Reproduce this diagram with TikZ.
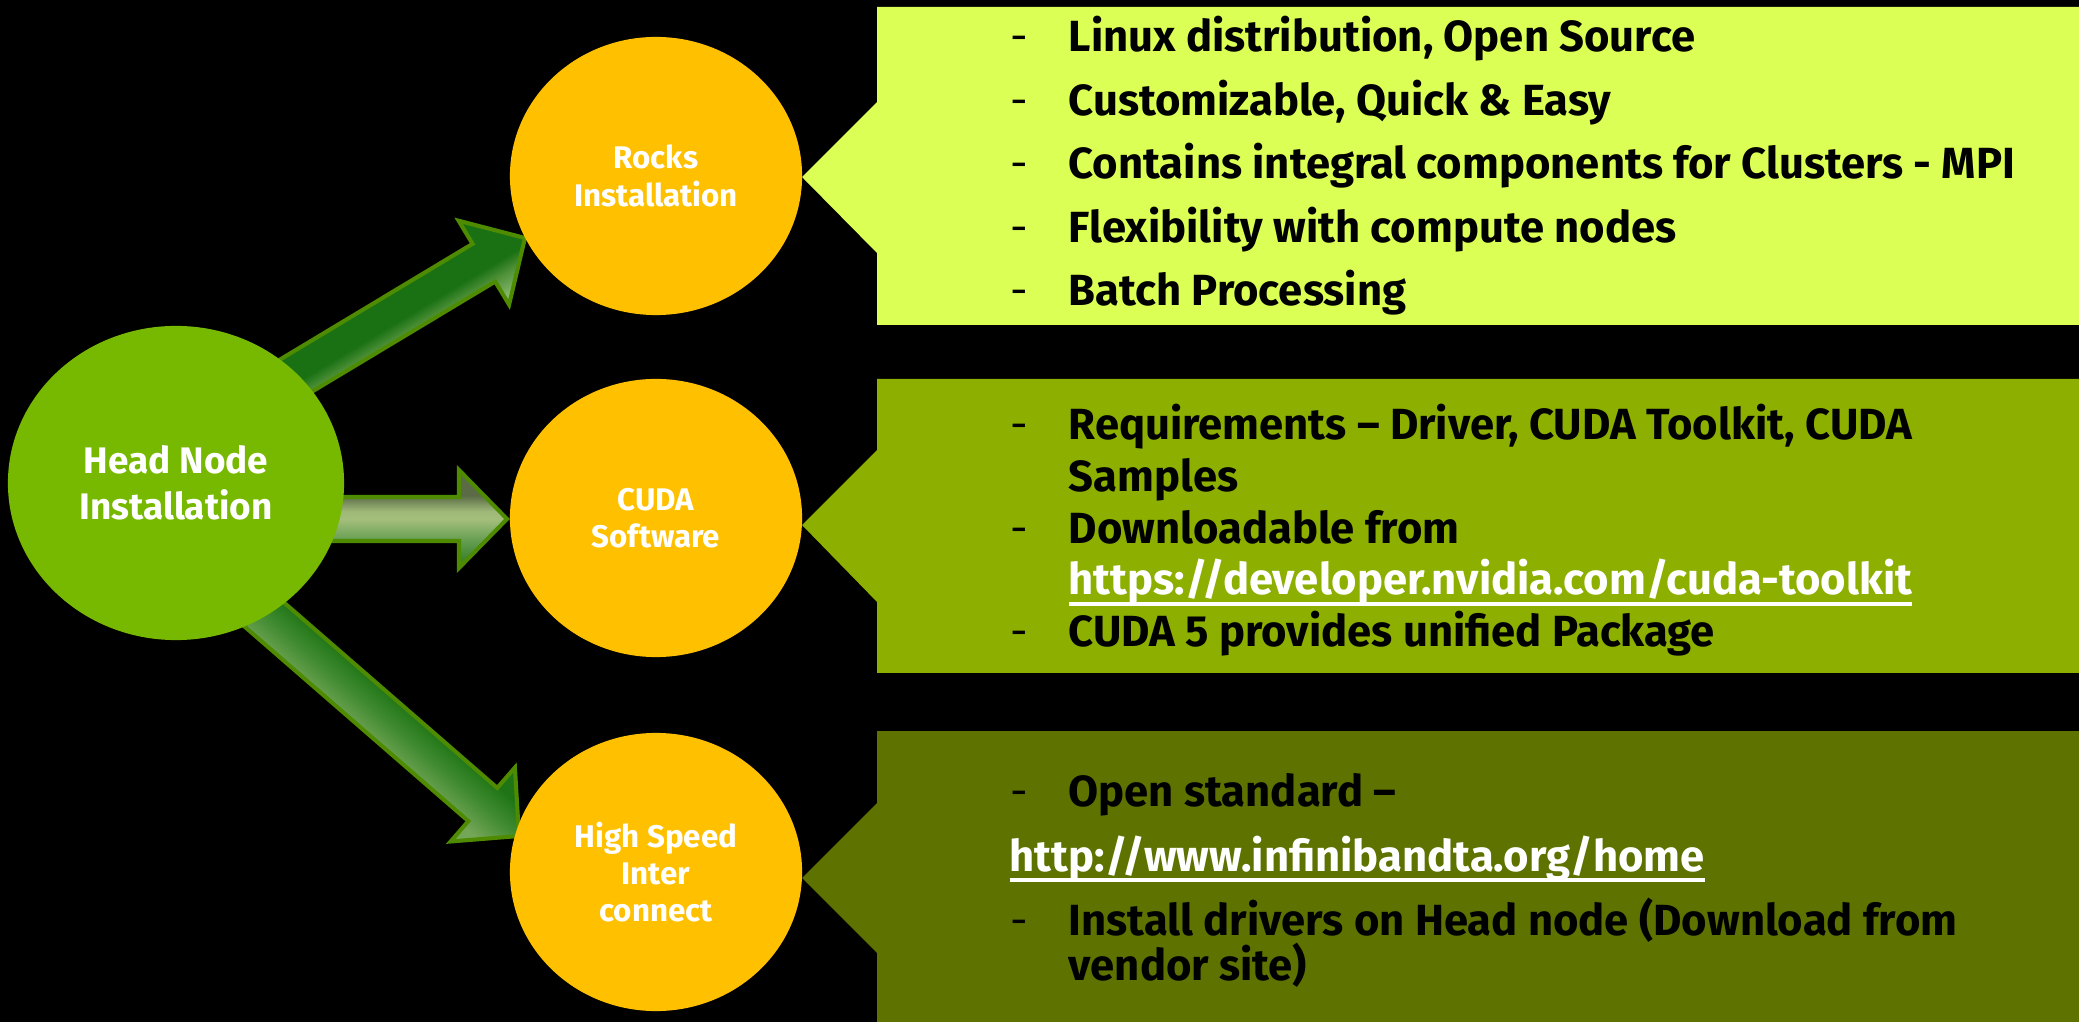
\documentclass[tikz,border=0pt]{standalone}
\usepackage{fontspec}
\setmainfont{Fira Sans}
\usetikzlibrary{shapes.geometric}
\definecolor{headgreen}{HTML}{76B900}
\definecolor{circgold}{HTML}{FFC000}
\definecolor{callA}{HTML}{DCFF55}
\definecolor{callB}{HTML}{8CAF00}
\definecolor{callC}{HTML}{5E7200}
\definecolor{aroutline}{HTML}{4F8B00}
\definecolor{aOneL}{HTML}{82B668}
\definecolor{aOneM}{HTML}{4E9038}
\definecolor{aOneD}{HTML}{1A7114}
\definecolor{aTwoA}{HTML}{2E7B28}
\definecolor{aTwoB}{HTML}{3C8530}
\definecolor{aTwoC}{HTML}{6AA055}
\definecolor{aTwoD}{HTML}{A4BF7B}
\definecolor{aTwoE}{HTML}{9EB878}
\definecolor{aTwoF}{HTML}{5A6B46}
\definecolor{aThrL}{HTML}{74A657}
\definecolor{aThrM}{HTML}{3F8A30}
\definecolor{aThrD}{HTML}{1F7516}
\pgfdeclareverticalshading{arone}{100bp}{color(0bp)=(aOneL); color(30bp)=(aOneL); color(40bp)=(aOneM); color(47bp)=(aOneD); color(100bp)=(aOneD)}
\pgfdeclareverticalshading{artwo}{100bp}{color(0bp)=(aTwoA); color(30bp)=(aTwoB); color(40bp)=(aTwoC); color(50bp)=(aTwoD); color(54bp)=(aTwoE); color(62bp)=(aTwoF); color(100bp)=(aTwoF)}
\pgfdeclareverticalshading{arthree}{100bp}{color(0bp)=(aThrL); color(35bp)=(aThrL); color(50bp)=(aThrM); color(62bp)=(aThrD); color(100bp)=(aThrD)}
\newcommand\urlul[1]{\setbox0=\hbox{#1}\leavevmode\rlap{\rule[-3.2pt]{\wd0}{1.2pt}}\box0}
\newcommand\blockarrow[5]{%
  \begin{scope}[transform canvas={shift={(#1,#2)},rotate=#3}]
    \path[shade, shading=#5, draw=aroutline, line width=1.15pt, line join=miter]
      (0,0) -- (-48,-49) -- (-48,-22) -- (-#4,-22) -- (-#4,22) -- (-48,22) -- (-48,49) -- cycle;
  \end{scope}}
\tikzset{
  headnode/.style={ellipse, fill=headgreen, minimum width=3.36cm, minimum height=3.14cm, inner sep=0pt,
    text=white, align=center, font=\bfseries\fontsize{10.5pt}{13.1pt}\selectfont},
  topicnode/.style={ellipse, fill=circgold, minimum width=2.92cm, minimum height=2.78cm, inner sep=0pt,
    text=white, align=center, font=\bfseries\fontsize{8.9pt}{10.6pt}\selectfont},
  dashmark/.style={anchor=base west, inner sep=0pt, text=black, font=\fontsize{12.4pt}{14pt}\selectfont},
  itemtext/.style={anchor=base west, inner sep=0pt, text=black, font=\bfseries\fontsize{12.4pt}{14pt}\selectfont},
  urltext/.style={anchor=base west, inner sep=0pt, text=white, font=\bfseries\fontsize{12.4pt}{14pt}\selectfont}
}
\begin{document}
\begin{tikzpicture}[x=0.01cm, y=-0.01cm]
\useasboundingbox (0,0) rectangle (2079,1022);
\fill[black] (0,0) rectangle (2079,1022);
% callouts
\fill[callA] (877,7) -- (2079,7) -- (2079,325) -- (877,325) -- (877,253) -- (802,177) -- (877,102) -- cycle;
\fill[callB] (877,379) -- (2079,379) -- (2079,673) -- (877,673) -- (877,602) -- (802,525) -- (877,450) -- cycle;
\fill[callC] (877,731) -- (2079,731) -- (2079,1022) -- (877,1022) -- (877,953) -- (802,878) -- (877,803) -- cycle;
% block arrows (from head node to topic nodes)
\blockarrow{525}{238}{31}{300}{arone}
\blockarrow{507}{519}{0}{209}{artwo}
\blockarrow{519}{836}{-41}{345}{arthree}
% nodes
\node[headnode] (head) at (176,483) {Head Node\\Installation};
\node[topicnode] (rocks) at (656,176) {Rocks\\Installation};
\node[topicnode] (cuda) at (656,518) {CUDA\\Software};
\node[topicnode] (hsi) at (656,872) {High Speed\\Inter\\connect};
% top callout text
\node[dashmark] (d11) at (1010,52) {-};
\node[itemtext] (t11) at (1068,52) {Linux distribution, Open Source};
\node[dashmark] (d12) at (1010,115.5) {-};
\node[itemtext] (t12) at (1068,115.5) {Customizable, Quick \& Easy};
\node[dashmark] (d13) at (1010,179) {-};
\node[itemtext] (t13) at (1068,179) {Contains integral components for Clusters - MPI};
\node[dashmark] (d14) at (1010,242.5) {-};
\node[itemtext] (t14) at (1068,242.5) {Flexibility with compute nodes};
\node[dashmark] (d15) at (1010,306) {-};
\node[itemtext] (t15) at (1068,306) {Batch Processing};
% middle callout text
\node[dashmark] (d21) at (1010,440) {-};
\node[itemtext] (t21) at (1068,440) {Requirements – Driver, CUDA Toolkit, CUDA};
\node[itemtext] (t22) at (1068,492) {Samples};
\node[dashmark] (d23) at (1010,543.5) {-};
\node[itemtext] (t23) at (1068,543.5) {Downloadable from};
\node[urltext] (t24) at (1068,595) {\urlul{https://developer.nvidia.com/cuda-toolkit}};
\node[dashmark] (d25) at (1010,646.5) {-};
\node[itemtext] (t25) at (1068,646.5) {CUDA 5 provides unified Package};
% bottom callout text
\node[dashmark] (d31) at (1010,806) {-};
\node[itemtext] (t31) at (1068,806) {Open standard –};
\node[urltext] (t32) at (1009,871) {\urlul{http://www.infinibandta.org/home}};
\node[dashmark] (d33) at (1010,935) {-};
\node[itemtext] (t33) at (1068,935) {Install drivers on Head node (Download from};
\node[itemtext] (t34) at (1068,980) {vendor site)};
\end{tikzpicture}
\end{document}
